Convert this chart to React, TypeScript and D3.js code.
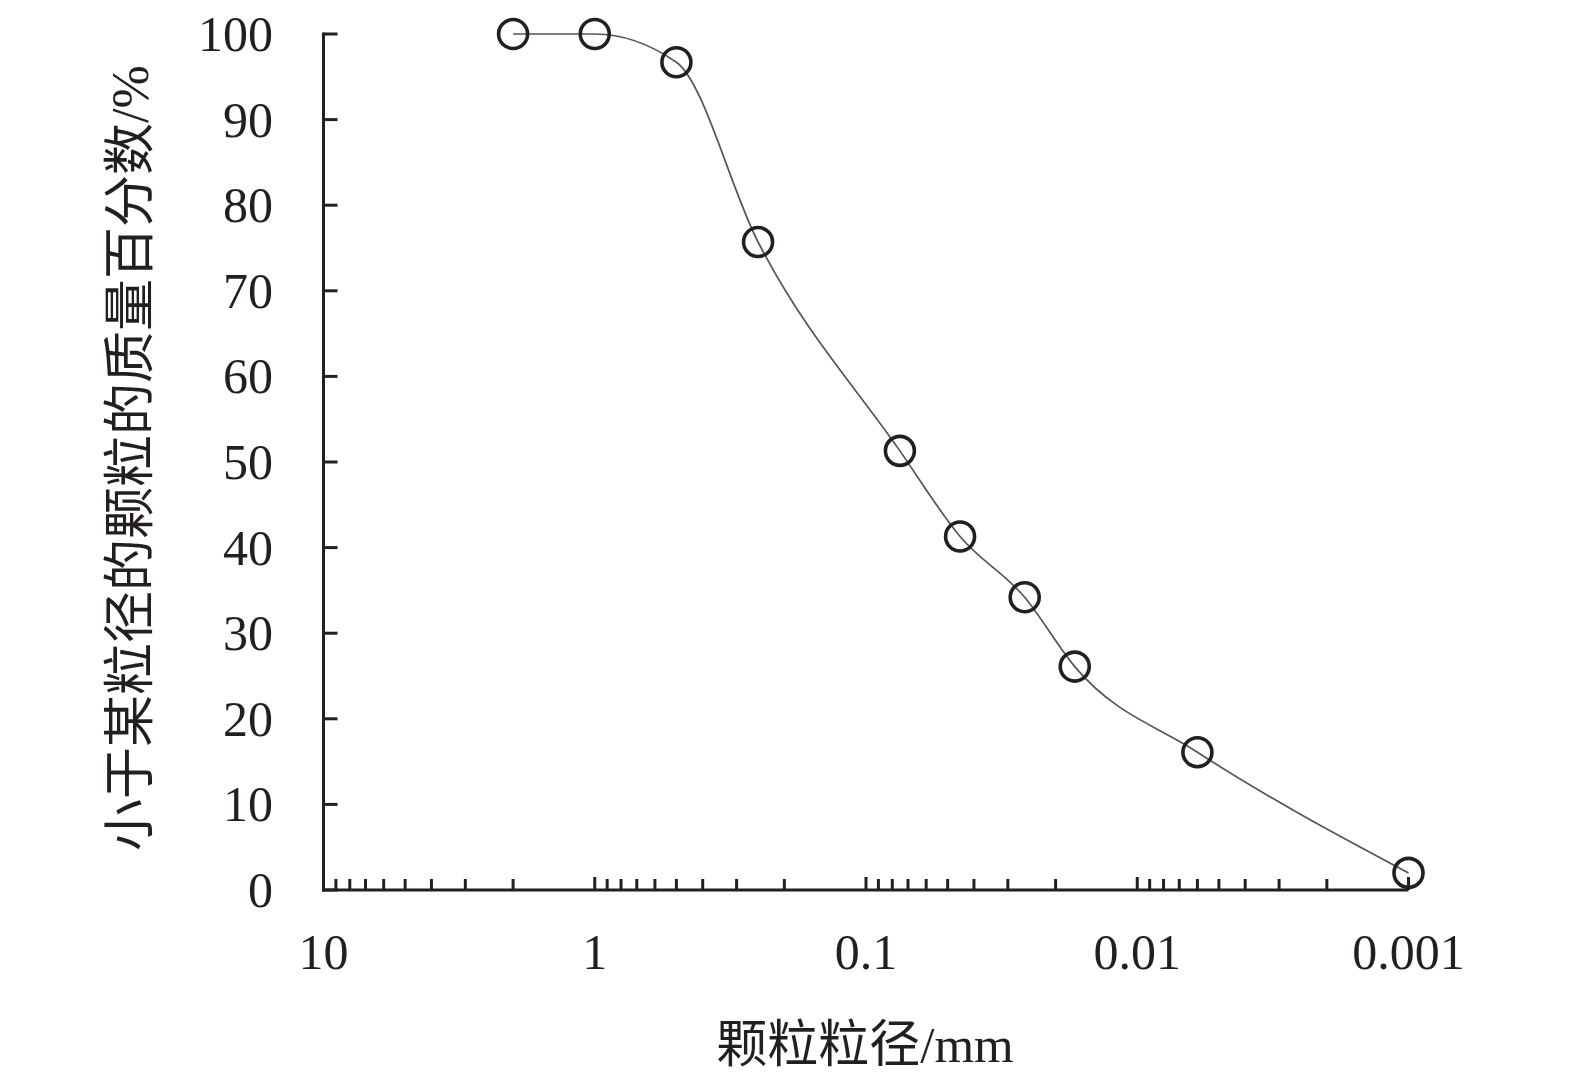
import React from "react";
import * as d3 from "d3";

const sizes = [2, 1, 0.5, 0.25, 0.075, 0.045, 0.026, 0.017, 0.006, 0.001];
const percents = [100, 100, 96.7, 75.7, 51.3, 41.3, 34.2, 26.1, 16.1, 2.0];
const yTicks = [0, 10, 20, 30, 40, 50, 60, 70, 80, 90, 100];
const xMajor = [10, 1, 0.1, 0.01, 0.001];
const xMajorLabels = ["10", "1", "0.1", "0.01", "0.001"];
const yTitleCJK = "小于某粒径的颗粒的质量百分数";
const yTitleUnit = "/%";
const xTitleCJK = "颗粒粒径";
const xTitleUnit = "/mm";

const W = 1575;
const H = 1083;
const serif = "'Liberation Serif', 'Times New Roman', serif";
const cjk = "'Noto Sans CJK SC', sans-serif";
const ink = "#231f20";

export default function App() {
  const x = d3.scaleLog().domain([10, 0.001]).range([323.5, 1408.5]);
  const y = d3.scaleLinear().domain([0, 100]).range([890, 34]);

  const minor: number[] = [];
  for (let e = 0; e > -4; e--) {
    for (let m = 2; m <= 9; m++) minor.push(m * Math.pow(10, e));
  }

  const pts = sizes.map((s, i) => [x(s), y(percents[i])] as [number, number]);
  const line = d3.line().curve(d3.curveMonotoneX)(pts) || "";

  return (
    <div style={{ position: "fixed", left: 0, top: 0 }}>
      <svg width={W} height={H} viewBox={`0 0 ${W} ${H}`} style={{ display: "block", background: "#fff" }}>
        <rect width={W} height={H} fill="#fff" />
        {/* axes */}
        <line x1={x(10)} x2={x(10)} y1={y(100) - 1.5} y2={y(0) + 1.5} stroke={ink} strokeWidth={3} />
        <line x1={x(10) - 1.5} x2={x(0.001)} y1={y(0)} y2={y(0)} stroke={ink} strokeWidth={3} />
        {yTicks.map((t) => (
          <g key={"y" + t}>
            <line x1={x(10)} x2={x(10) + 14} y1={y(t)} y2={y(t)} stroke={ink} strokeWidth={3} />
            <text x={273} y={y(t) + 17} textAnchor="end" fontFamily={serif} fontSize={50} fill={ink}>
              {t}
            </text>
          </g>
        ))}
        {xMajor.map((t, i) => (
          <g key={"xm" + t}>
            <line x1={x(t)} x2={x(t)} y1={y(0)} y2={y(0) - 13} stroke={ink} strokeWidth={3} />
            <text x={x(t)} y={969} textAnchor="middle" fontFamily={serif} fontSize={50} fill={ink}>
              {xMajorLabels[i]}
            </text>
          </g>
        ))}
        {minor.map((t) => (
          <line key={"xn" + t} x1={x(t)} x2={x(t)} y1={y(0)} y2={y(0) - 11} stroke={ink} strokeWidth={3} />
        ))}
        {/* curve */}
        <path d={line} fill="none" stroke="#555" strokeWidth={1.7} />
        {pts.map((p, i) => (
          <circle key={"c" + i} cx={p[0]} cy={p[1]} r={14.5} fill="none" stroke={ink} strokeWidth={3.6} />
        ))}
        {/* titles */}
        <text x={865} y={1062} textAnchor="middle" fontSize={51} fill={ink}>
          <tspan fontFamily={cjk}>{xTitleCJK}</tspan>
          <tspan fontFamily={serif}>{xTitleUnit}</tspan>
        </text>
        <text
          transform="translate(148,458) rotate(-90)"
          textAnchor="middle"
          fontSize={52}
          fill={ink}
        >
          <tspan fontFamily={cjk}>{yTitleCJK}</tspan>
          <tspan fontFamily={serif}>{yTitleUnit}</tspan>
        </text>
      </svg>
    </div>
  );
}
